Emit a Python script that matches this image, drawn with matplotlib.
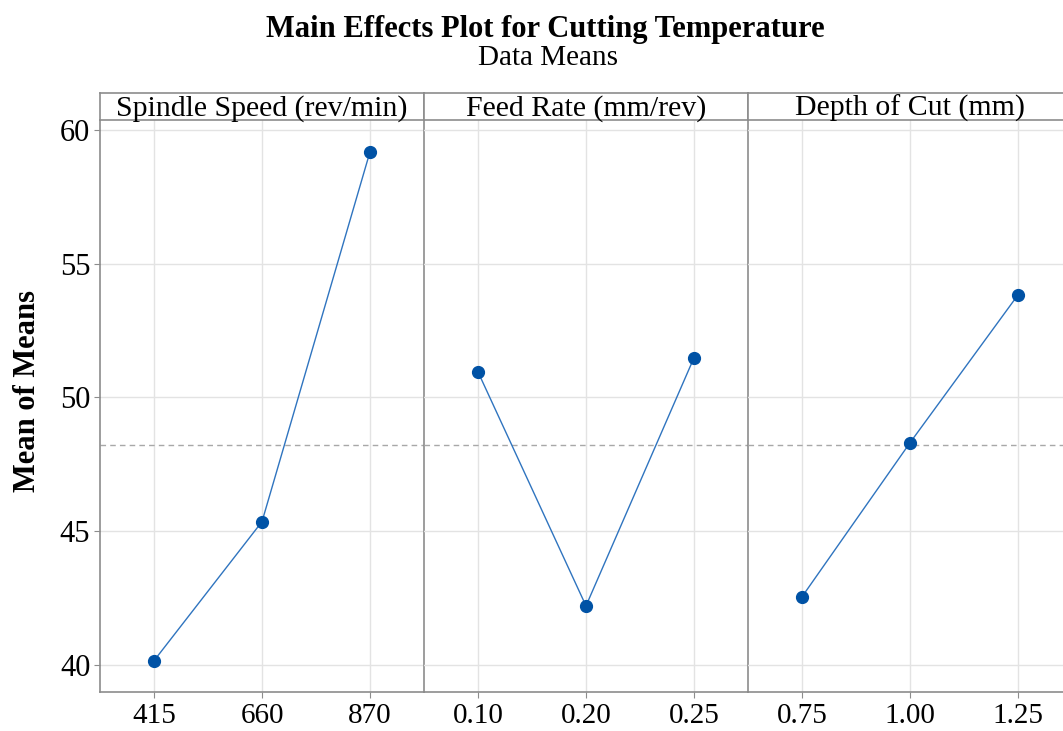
import numpy as np
import matplotlib
matplotlib.use("Agg")
import matplotlib.pyplot as plt

plt.rcParams['font.family'] = ['Liberation Serif', 'DejaVu Serif']

# factor levels and mean response at each level
factors = ['Spindle Speed (rev/min)', 'Feed Rate (mm/rev)', 'Depth of Cut (mm)']
levels = [['415', '660', '870'],
          ['0.10', '0.20', '0.25'],
          ['0.75', '1.00', '1.25']]
spindle_means = [40.15, 45.35, 59.18]
feed_means = [50.95, 42.20, 51.48]
depth_means = [42.54, 48.30, 53.83]
means = [spindle_means, feed_means, depth_means]

grand_mean = np.mean(spindle_means + feed_means + depth_means)

W, H = 1063, 731
fig = plt.figure(figsize=(W / 100, H / 100), dpi=100)

left = 100 / W
pw = 324 / W
bottom = (H - 692) / H
top = (H - 120) / H
strip_h = 27 / H
frame = '#8c8c8c'
grid = '#e3e3e3'

axes = []
for i in range(3):
    x0 = left + i * pw
    ax = fig.add_axes([x0, bottom, pw, top - bottom])
    ax.patch.set_alpha(0)
    pos = np.arange(1, 4)
    ax.axhline(grand_mean, color='#a8a8a8', ls=(0, (4, 3)), lw=1, zorder=1)
    ax.plot(pos, means[i], color='#2f74bf', lw=1, zorder=2)
    ax.plot(pos, means[i], 'o', color='#0052a5', ms=8.5, zorder=3)
    ax.set_xlim(0.5, 3.5)
    ax.set_ylim(38.98, 60.37)
    ax.set_xticks(pos)
    ax.set_xticklabels(levels[i], fontsize=21)
    ax.set_yticks([40, 45, 50, 55, 60])
    ax.grid(True, color=grid, lw=1, zorder=0)
    ax.set_axisbelow(True)
    ax.tick_params(axis='x', length=4, color=frame, pad=4)
    ax.tick_params(axis='y', length=4, color=frame, labelsize=22, pad=3)
    for s in ax.spines.values():
        s.set_color(frame)
        s.set_linewidth(1.2)
        s.set_zorder(5)
    ax.spines['top'].set_visible(False)
    if i > 0:
        ax.spines['left'].set_visible(False)
        ax.tick_params(axis='y', left=False, labelleft=False)
    axes.append(ax)

    # facet header
    sx = fig.add_axes([x0, top, pw, strip_h])
    sx.set_xticks([])
    sx.set_yticks([])
    for s in sx.spines.values():
        s.set_color(frame)
        s.set_linewidth(1.2)
    sx.text(0.5, 0.42, factors[i], ha='center', va='center', fontsize=21.5,
            transform=sx.transAxes)

axes[0].set_ylabel('Mean of Means', fontsize=22, fontweight='bold')
axes[0].yaxis.set_label_coords(-0.18, 0.526)

fig.text(545 / W, 1 - 37 / H, 'Main Effects Plot for Cutting Temperature',
         ha='center', va='baseline', fontsize=22, fontweight='bold')
fig.text(548 / W, 1 - 65 / H, 'Data Means', ha='center', va='baseline', fontsize=21)

fig.savefig('out.png', dpi=100)
